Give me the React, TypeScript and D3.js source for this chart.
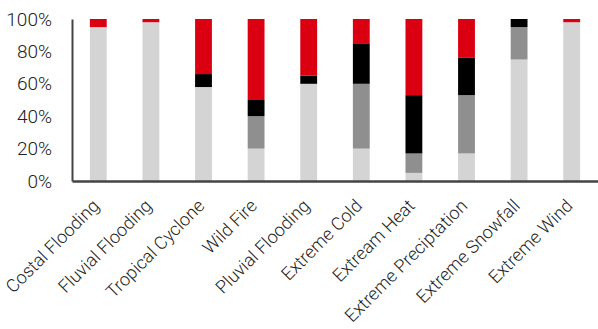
import React, { useRef, useEffect } from "react";
import * as d3 from "d3";

const categories = [
  "Costal Flooding",
  "Fluvial Flooding",
  "Tropical Cyclone",
  "Wild Fire",
  "Pluvial Flooding",
  "Extreme Cold",
  "Extream Heat",
  "Extreme Preciptation",
  "Extreme Snowfall",
  "Extreme Wind",
];

// stacked bottom to top
const lightGray = [95, 98, 58, 20, 60, 20, 5, 17, 75, 98];
const darkGray = [0, 0, 0, 20, 0, 40, 12, 36, 20, 0];
const black = [0, 0, 8, 10, 5, 25, 36, 23, 5, 0];
const red = [5, 2, 34, 50, 35, 15, 47, 24, 0, 2];

const seriesKeys = ["lightGray", "darkGray", "black", "red"];
const seriesColors = ["#d4d4d4", "#8f8f8f", "#000000", "#da0011"];
const yTicks = [0, 20, 40, 60, 80, 100];

const W = 598;
const H = 329;
const margin = { top: 19, right: 0, bottom: 148, left: 72 };

const App = () => {
  const svgRef = useRef<SVGSVGElement>(null);

  useEffect(() => {
    const svg = d3.select(svgRef.current);
    svg.selectAll("*").remove();

    const rows = categories.map((c, i) => ({
      cat: c,
      lightGray: lightGray[i],
      darkGray: darkGray[i],
      black: black[i],
      red: red[i],
    }));

    const x = d3
      .scaleBand()
      .domain(categories)
      .range([margin.left, W - margin.right])
      .paddingInner(0.68)
      .paddingOuter(0.34);
    const y = d3
      .scaleLinear()
      .domain([0, 100])
      .range([H - margin.bottom, margin.top]);

    const stacked = d3.stack<any>().keys(seriesKeys)(rows);

    svg
      .append("g")
      .selectAll("g")
      .data(stacked)
      .join("g")
      .attr("fill", (d, i) => seriesColors[i])
      .selectAll("rect")
      .data((d) => d)
      .join("rect")
      .attr("x", (d: any) => x(d.data.cat)!)
      .attr("width", x.bandwidth())
      .attr("y", (d) => y(d[1]))
      .attr("height", (d) => y(d[0]) - y(d[1]));

    const font = "Roboto, 'Liberation Sans', sans-serif";

    // y axis
    const yAxis = svg
      .append("g")
      .attr("transform", `translate(${margin.left},0)`)
      .call(
        d3
          .axisLeft(y)
          .tickValues(yTicks)
          .tickSize(0)
          .tickPadding(20)
          .tickFormat((d) => `${d}%`)
      );
    yAxis.select(".domain").attr("stroke", "#444").attr("stroke-width", 2);
    yAxis
      .selectAll("text")
      .attr("font-family", font)
      .attr("font-weight", 300)
      .attr("font-size", 19)
      .attr("fill", "#222");

    // x axis
    const xAxis = svg
      .append("g")
      .attr("transform", `translate(0,${H - margin.bottom})`)
      .call(d3.axisBottom(x).tickSize(0).tickSizeOuter(0).tickFormat(() => ""));
    xAxis.select(".domain").attr("stroke", "#444").attr("stroke-width", 2.5);

    svg
      .append("g")
      .selectAll("text")
      .data(categories)
      .join("text")
      .attr(
        "transform",
        (d) => `translate(${x(d)! + x.bandwidth() / 2 + 2},${H - margin.bottom + 26}) rotate(-45)`
      )
      .attr("text-anchor", "end")
      .attr("font-family", font)
      .attr("font-weight", 300)
      .attr("font-size", 18)
      .attr("fill", "#222")
      .text((d) => d);
  }, []);

  return <svg ref={svgRef} width={W} height={H} style={{ display: "block", position: "absolute", left: 0, top: 0 }} />;
};

export default App;
